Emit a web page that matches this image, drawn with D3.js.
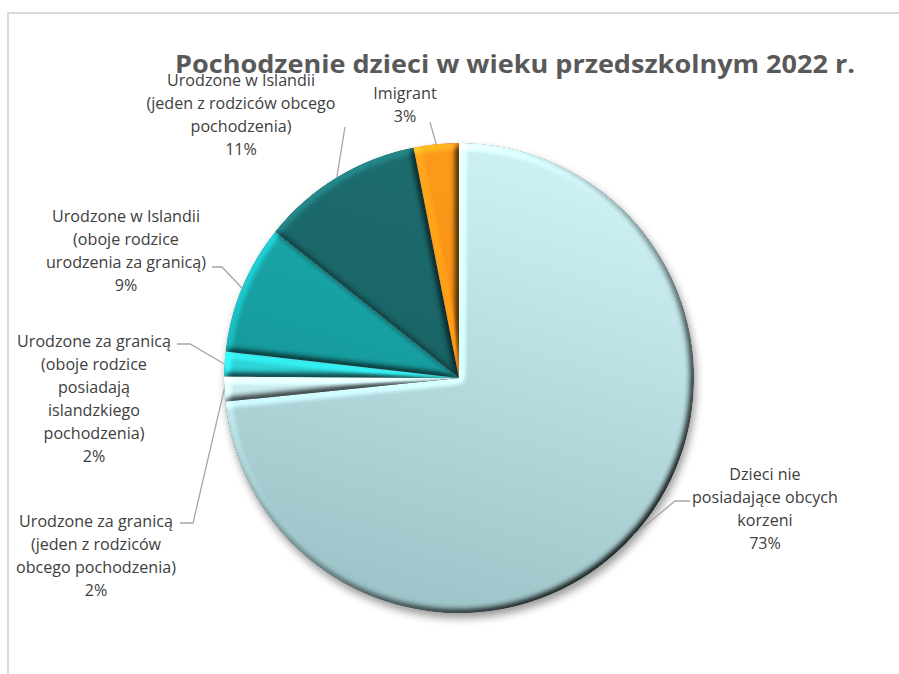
<!DOCTYPE html>
<html>
<head>
<meta charset="utf-8">
<script src="https://cdn.jsdelivr.net/npm/d3@7"></script>
<style>
  html, body { margin: 0; padding: 0; background: #ffffff; }
  svg { display: block; }
</style>
</head>
<body>
<svg id="chart" width="899" height="674"></svg>
<script>
// ---------- data ----------
const title = "Pochodzenie dzieci w wieku przedszkolnym 2022 r.";
const categories = [
  "Dzieci nie posiadające obcych korzeni",
  "Urodzone za granicą (jeden z rodziców obcego pochodzenia)",
  "Urodzone za granicą (oboje rodzice posiadają islandzkiego pochodzenia)",
  "Urodzone w Islandii (oboje rodzice urodzenia za granicą)",
  "Urodzone w Islandii (jeden z rodziców obcego pochodzenia)",
  "Imigrant"
];
const values = [73.4, 1.7, 1.7, 8.9, 11.2, 3.1];
const labelLines = [
  ["Dzieci nie", "posiadające obcych", "korzeni"],
  ["Urodzone za granicą", "(jeden z rodziców", "obcego pochodzenia)"],
  ["Urodzone za granicą", "(oboje rodzice", "posiadają", "islandzkiego", "pochodzenia)"],
  ["Urodzone w Islandii", "(oboje rodzice", "urodzenia za granicą)"],
  ["Urodzone w Islandii", "(jeden z rodziców obcego", "pochodzenia)"],
  ["Imigrant"]
];

// ---------- styles / layout ----------
const sliceColors = [
  ["#d0f3f6", "#9cc3c7"],
  ["#e2f8fa", "#bfe6e9"],
  ["#45e8ea", "#1ec6c9"],
  ["#1cb0b2", "#128c8e"],
  ["#1e6e70", "#145a5c"],
  ["#ff9c1e", "#f08300"]
];
const labelLayout = [
  { cx: 765, y: 474, leader: [[690, 501], [675, 501]] },
  { cx: 96,  y: 521, leader: [[180, 523], [193, 523]] },
  { cx: 94,  y: 341, leader: [[177, 344], [190, 344]] },
  { cx: 126, y: 216, leader: [[212, 267], [222, 267]] },
  { cx: 241, y: 80,  leader: [[345, 127]] },
  { cx: 405, y: 93,  leader: [[430, 122]] }
];
const cx = 459, cy = 378, R = 235;
const lineStep = 23;
const fontFamily = "'Open Sans', 'Noto Sans', sans-serif";

const svg = d3.select("#chart");
const defs = svg.append("defs");

// bevel filter
const bevel = defs.append("filter").attr("id", "bevel")
  .attr("x", "-5%").attr("y", "-5%").attr("width", "110%").attr("height", "110%")
  .attr("color-interpolation-filters", "sRGB");
bevel.append("feGaussianBlur").attr("in", "SourceAlpha").attr("stdDeviation", 3.5).attr("result", "b");
const dl = bevel.append("feDiffuseLighting").attr("in", "b").attr("surfaceScale", 4)
  .attr("diffuseConstant", 1).attr("lighting-color", "#ffffff").attr("result", "light");
dl.append("feDistantLight").attr("azimuth", 225).attr("elevation", 50);
bevel.append("feComposite").attr("in", "SourceGraphic").attr("in2", "light")
  .attr("operator", "arithmetic").attr("k1", 1.305).attr("k2", 0).attr("k3", 0).attr("k4", 0).attr("result", "lit");
bevel.append("feComposite").attr("in", "lit").attr("in2", "SourceAlpha").attr("operator", "in");

// shadow filter
const sh = defs.append("filter").attr("id", "shadow")
  .attr("x", "-20%").attr("y", "-20%").attr("width", "140%").attr("height", "140%");
sh.append("feGaussianBlur").attr("stdDeviation", 4);

// gradients (in pie-group coordinates)
sliceColors.forEach((c, i) => {
  const g = defs.append("linearGradient").attr("id", "grad" + i)
    .attr("gradientUnits", "userSpaceOnUse")
    .attr("x1", R * 0.4).attr("y1", -R).attr("x2", -R * 0.2).attr("y2", R);
  g.append("stop").attr("offset", "0%").attr("stop-color", c[0]);
  g.append("stop").attr("offset", "100%").attr("stop-color", c[1]);
});

// chart border
svg.append("rect").attr("x", 8).attr("y", 13).attr("width", 1200).attr("height", 1200)
  .attr("fill", "none").attr("stroke", "#d9d9d9").attr("stroke-width", 2);

// font fitting helper
function fitSize(text, family, weight, targetWidth) {
  const t = svg.append("text").attr("font-family", family).attr("font-weight", weight)
    .attr("font-size", 100).text(text);
  const w = t.node().getComputedTextLength();
  t.remove();
  return 100 * targetWidth / w;
}
const labelSize = fitSize("Urodzone w Islandii", fontFamily, "normal", 148);

// pie
const pie = d3.pie().sort(null).value(d => d).startAngle(0).endAngle(2 * Math.PI);
const arcs = pie(values);
const arc = d3.arc().innerRadius(0).outerRadius(R);
const total = d3.sum(values);

const gPie = svg.append("g").attr("transform", `translate(${cx},${cy})`);
gPie.append("circle").attr("cx", 2).attr("cy", 5).attr("r", R)
  .attr("fill", "#000").attr("opacity", 0.4).attr("filter", "url(#shadow)");
gPie.selectAll("path.slice").data(arcs).enter().append("path")
  .attr("class", "slice")
  .attr("d", arc)
  .attr("fill", (d, i) => `url(#grad${i})`)
  .attr("filter", "url(#bevel)");

// leader lines
const gLead = svg.append("g");
arcs.forEach((d, i) => {
  const a = (d.startAngle + d.endAngle) / 2;
  const end = [cx + R * Math.sin(a), cy - R * Math.cos(a)];
  const pts = labelLayout[i].leader.concat([end]);
  gLead.append("path").attr("d", d3.line()(pts))
    .attr("fill", "none").attr("stroke", "#a6a6a6").attr("stroke-width", 1.3);
});

// labels
const gLab = svg.append("g").attr("font-family", fontFamily).attr("font-size", labelSize)
  .attr("fill", "#404040").attr("text-anchor", "middle");
arcs.forEach((d, i) => {
  const lines = labelLines[i].concat([Math.round(values[i] / total * 100) + "%"]);
  const L = labelLayout[i];
  const t = gLab.append("text");
  lines.forEach((ln, j) => {
    t.append("tspan").attr("x", L.cx).attr("y", L.y + j * lineStep).attr("dy", "0.35em").text(ln);
  });
});

// title (slightly condensed to mimic a narrow bold face)
svg.append("text").attr("x", 515).attr("y", 73).attr("text-anchor", "middle")
  .attr("font-family", fontFamily).attr("font-weight", "bold").attr("font-size", 25)
  .attr("textLength", 680).attr("lengthAdjust", "spacingAndGlyphs")
  .attr("fill", "#595959").text(title);
</script>
</body>
</html>
